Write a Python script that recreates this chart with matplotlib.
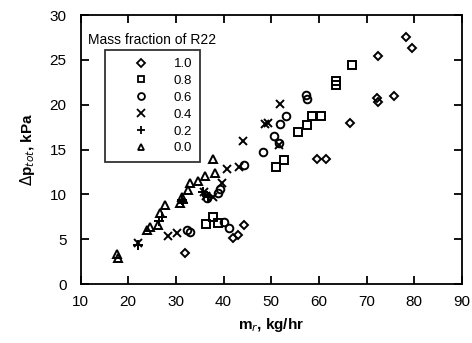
import matplotlib
matplotlib.use("Agg")
import matplotlib.pyplot as plt
from matplotlib.lines import Line2D

plt.rcParams['font.family'] = ['Liberation Sans', 'DejaVu Sans']

# Data (m_r in kg/hr, pressure drop in kPa)
x_10 = [31.9, 42.0, 43.1, 44.2, 59.7, 61.4, 66.6, 72.1, 72.5, 72.5, 75.7, 78.2, 79.6]
y_10 = [3.5, 5.1, 5.5, 6.6, 14.0, 14.0, 18.0, 20.7, 20.3, 25.4, 21.0, 27.6, 26.3]

x_08 = [36.3, 37.8, 38.8, 50.9, 52.6, 55.7, 57.6, 58.6, 60.5, 63.5, 63.5, 67.0]
y_08 = [6.7, 7.5, 6.8, 13.1, 13.8, 17.0, 17.7, 18.7, 18.7, 22.2, 22.6, 24.4]

x_06 = [32.4, 32.9, 36.6, 38.9, 39.2, 40.0, 41.1, 44.2, 48.3, 50.6, 51.6, 51.9, 53.0, 57.2, 57.6]
y_06 = [6.0, 5.8, 9.6, 10.2, 10.6, 6.9, 6.3, 13.3, 14.7, 16.5, 15.7, 17.9, 18.7, 21.1, 20.6]

x_04 = [22.1, 28.4, 30.3, 36.0, 36.4, 37.8, 39.6, 40.8, 43.3, 44.1, 48.8, 49.4, 51.7, 51.9]
y_04 = [4.6, 5.4, 5.7, 10.3, 9.8, 9.7, 11.3, 12.8, 13.0, 15.9, 17.8, 18.0, 15.5, 20.1]

x_02 = [22.1, 26.5, 27.1, 31.3, 31.6, 35.7, 36.8]
y_02 = [4.4, 7.0, 7.5, 9.4, 9.0, 10.3, 9.7]

x_00 = [17.7, 17.8, 24.0, 24.6, 26.3, 26.7, 27.8, 30.9, 31.3, 32.6, 33.0, 34.7, 36.2, 38.2, 37.8]
y_00 = [3.3, 2.9, 6.0, 6.4, 6.6, 7.9, 8.8, 9.0, 9.7, 10.5, 11.3, 11.5, 12.1, 12.4, 14.0]

fractions = ['1.0', '0.8', '0.6', '0.4', '0.2', '0.0']
markers = ['D', 's', 'o', 'x', '+', '^']
sizes = [4.0, 5.5, 5.5, 6.0, 7, 5.5]
series = [(x_10, y_10), (x_08, y_08), (x_06, y_06), (x_04, y_04), (x_02, y_02), (x_00, y_00)]

fig = plt.figure(figsize=(4.72, 3.43), dpi=100)
ax = fig.add_axes([0.1706, 0.172, 0.808, 0.784])

for (xs, ys), m, s in zip(series, markers, sizes):
    ax.plot(xs, ys, linestyle='none', marker=m, markersize=s, markerfacecolor='none',
            markeredgecolor='black', markeredgewidth=1.4)

ax.set_xlim(10, 90)
ax.set_ylim(0, 30)
ax.set_xticks(range(10, 91, 10))
ax.set_yticks(range(0, 31, 5))
ax.tick_params(direction='in', top=True, right=True, length=6, width=1.3, labelsize=11)
ax.tick_params(axis='x', pad=8)
ax.tick_params(axis='y', pad=10)
for sp in ax.spines.values():
    sp.set_linewidth(1.3)

ax.set_xlabel(r'm$_r$, kg/hr', fontsize=11, fontweight='bold', labelpad=5)
ax.set_ylabel(r'$\Delta$p$_{tot}$, kPa', fontsize=11, fontweight='bold', labelpad=9)

handles = [Line2D([], [], linestyle='none', marker=m, markersize=s * 0.9, markerfacecolor='none',
                  markeredgecolor='black', markeredgewidth=1.3)
           for m, s in zip(markers, sizes)]
leg = ax.legend(handles, fractions, loc='upper left', bbox_to_anchor=(0.064, 0.87),
                fontsize=9.5, frameon=True, fancybox=False, edgecolor='black',
                handletextpad=0.3, labelspacing=0.35, borderpad=0.6, handlelength=4.3,
                borderaxespad=0)
leg.get_frame().set_linewidth(1.3)
ax.text(0.02, 0.907, 'Mass fraction of R22', transform=ax.transAxes, fontsize=10,
        va='center', ha='left')

fig.savefig('out.png', dpi=100)
